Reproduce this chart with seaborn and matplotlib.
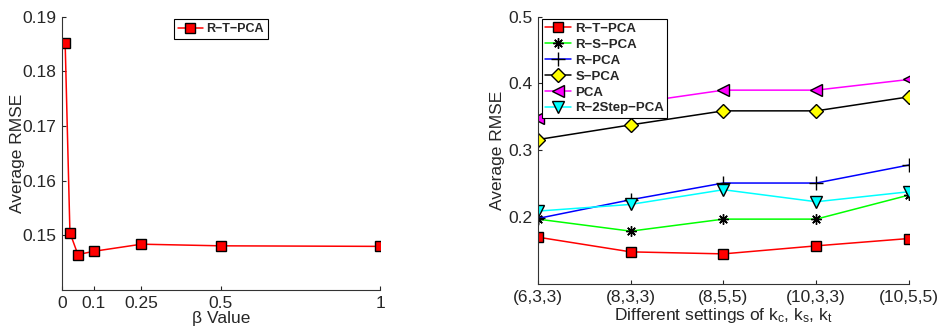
import numpy as np
import pandas as pd
import matplotlib
matplotlib.use("Agg")
import matplotlib.pyplot as plt
import seaborn as sns

sns.set_style("ticks")
plt.rcParams['font.family'] = ['Liberation Sans', 'DejaVu Sans']
plt.rcParams['mathtext.fontset'] = 'custom'
plt.rcParams['mathtext.rm'] = 'Liberation Sans'
plt.rcParams['mathtext.it'] = 'Liberation Sans'

# left panel: effect of beta
beta = [0.01, 0.025, 0.05, 0.1, 0.25, 0.5, 1.0]
beta_rmse = [0.1851, 0.1505, 0.1465, 0.1471, 0.1484, 0.1481, 0.1480]
beta_ticks = [0, 0.1, 0.25, 0.5, 1]
beta_ticklabels = ['0', '0.1', '0.25', '0.5', '1']

# right panel: different settings of k_c, k_s, k_t
settings = ['(6,3,3)', '(8,3,3)', '(8,5,5)', '(10,3,3)', '(10,5,5)']
r_t_pca = [0.170, 0.148, 0.145, 0.157, 0.168]
r_s_pca = [0.197, 0.179, 0.197, 0.197, 0.233]
r_pca = [0.198, 0.226, 0.251, 0.251, 0.278]
s_pca = [0.316, 0.338, 0.359, 0.359, 0.380]
pca = [0.348, 0.370, 0.390, 0.390, 0.406]
r_2step_pca = [0.209, 0.219, 0.241, 0.223, 0.238]

series = [
    ('R\u2212T\u2212PCA', r_t_pca, 'red', 's', 'red', 7),
    ('R\u2212S\u2212PCA', r_s_pca, '#00ff00', (8, 2, 0), 'black', 7.5),
    ('R\u2212PCA', r_pca, 'blue', '+', 'black', 9.5),
    ('S\u2212PCA', s_pca, 'black', 'D', 'yellow', 7.5),
    ('PCA', pca, 'magenta', '<', 'magenta', 9),
    ('R\u22122Step\u2212PCA', r_2step_pca, 'cyan', 'v', 'cyan', 9),
]

fig = plt.figure(figsize=(9.42, 3.26), dpi=100)
ax1 = fig.add_axes([0.0658, 0.110, 0.3376, 0.839])
ax2 = fig.add_axes([0.571, 0.129, 0.394, 0.820])

df1 = pd.DataFrame({'beta': beta, 'rmse': beta_rmse})
sns.lineplot(data=df1, x='beta', y='rmse', ax=ax1, color='red', lw=1.1,
             marker='s', markersize=7, markerfacecolor='red',
             markeredgecolor='black', markeredgewidth=1.0,
             label='R\u2212T\u2212PCA')
ax1.set_xlim(0, 1)
ax1.set_ylim(0.14, 0.19)
ax1.set_xticks(beta_ticks)
ax1.set_xticklabels(beta_ticklabels)
ax1.set_yticks([0.15, 0.16, 0.17, 0.18, 0.19])
ax1.set_xlabel('\u03b2 Value', fontsize=12.5, labelpad=0)
ax1.set_ylabel('Average RMSE', fontsize=12.5, labelpad=-2)
leg1 = ax1.legend(loc='upper center', bbox_to_anchor=(0.5, 0.99),
                  borderaxespad=0,
                  prop={'weight': 'bold', 'size': 9}, fancybox=False,
                  framealpha=1, edgecolor='black', handlelength=2.0,
                  handletextpad=0.3, borderpad=0.3)
leg1.get_frame().set_linewidth(0.8)

x_pos = np.arange(len(settings))
for name, vals, col, mk, face, ms in series:
    sns.lineplot(x=x_pos, y=vals, ax=ax2, color=col, lw=1.1, marker=mk,
                 markersize=ms, markerfacecolor=face, markeredgecolor='black',
                 markeredgewidth=1.0, label=name)
ax2.set_xlim(0, len(settings) - 1)
ax2.set_ylim(0.1, 0.5)
ax2.set_xticks(x_pos)
ax2.set_xticklabels(settings)
ax2.set_yticks([0.2, 0.3, 0.4, 0.5])
ax2.set_xlabel(r'Different settings of k$_c$, k$_s$, k$_t$', fontsize=12.5, labelpad=1)
ax2.set_ylabel('Average RMSE', fontsize=12.5, labelpad=2)
leg2 = ax2.legend(loc='upper left', bbox_to_anchor=(0.01, 0.99),
                  borderaxespad=0,
                  prop={'weight': 'bold', 'size': 9.5}, fancybox=False,
                  framealpha=1, edgecolor='black', handlelength=2.0,
                  handletextpad=0.3, borderpad=0.25, labelspacing=0.28)
leg2.get_frame().set_linewidth(0.8)

for ax in (ax1, ax2):
    sns.despine(ax=ax)
    ax.tick_params(direction='in', length=3, labelsize=12.5, width=0.8, pad=4)
    for s in ('left', 'bottom'):
        ax.spines[s].set_linewidth(0.8)
        ax.spines[s].set_color('#333333')

fig.savefig('out.png', dpi=100)
